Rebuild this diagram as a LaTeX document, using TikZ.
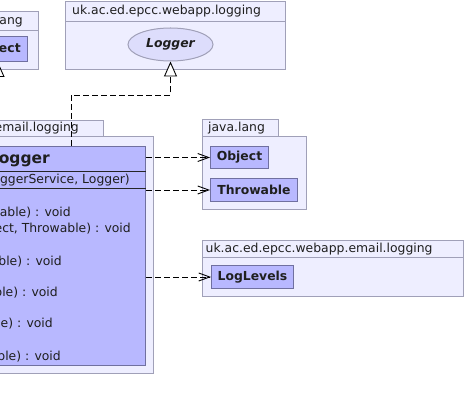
\documentclass[tikz,border=0pt]{standalone}
\usepackage{fontspec}
\setmainfont{DejaVu Sans}
\usetikzlibrary{arrows.meta,shapes.geometric}

\definecolor{pkgfill}{RGB}{238,238,255}
\definecolor{pkgline}{RGB}{160,160,184}
\definecolor{clsfill}{RGB}{184,184,255}
\definecolor{clsline}{RGB}{112,112,160}
\definecolor{iffill}{RGB}{221,221,252}

\begin{document}
\begin{tikzpicture}[x=1pt,y=-1pt,
    every node/.style={font=\fontsize{12.4}{15}\selectfont,text=black!88},
    pkgbox/.style={draw=pkgline,fill=pkgfill,line width=1pt,inner sep=0pt,anchor=north west},
    clsbox/.style={draw=clsline,fill=clsfill,line width=1pt,inner sep=0pt},
    bold/.style={font=\fontsize{12.4}{15}\selectfont\bfseries},
    member/.style={inner sep=0pt,anchor=east},
    dep/.style={line width=0.9pt,dash pattern=on 6pt off 3pt,-{Straight Barb[length=11pt,width=8pt]}},
    realize/.style={line width=0.9pt,dash pattern=on 6pt off 3pt,-{Triangle[length=15pt,width=13pt,fill=white]}},
    inherit/.style={line width=0.9pt,-{Triangle[length=15pt,width=13pt,fill=white]}}]

    \useasboundingbox (0,0) rectangle (464,411);

    % java.lang (left, cut off)
    \node[pkgbox,minimum width=98pt,minimum height=19pt] (langtabL) at (-60,11) {};
    \node[pkgbox,minimum width=98pt,minimum height=39pt] (langpkgL) at (-60,30) {};
    \node[member] (langlblL) at (23,21) {java.lang};
    \node[clsbox,bold,minimum width=58pt,minimum height=25pt,anchor=south] (objL) at (-2,62) {Object};
    \coordinate (subL) at (-2,150);
    \draw[inherit] (subL) -- (objL.south);

    % uk.ac.ed.epcc.webapp.logging
    \node[pkgbox,minimum width=220pt,minimum height=20pt] (logtab) at (65,1) {};
    \node[pkgbox,minimum width=220pt,minimum height=48pt] (logpkg) at (65,21) {};
    \node[inner sep=0pt,anchor=west] (loglbl) at ([xshift=7pt]logtab.west) {uk.ac.ed.epcc.webapp.logging};
    \node[ellipse,draw=pkgline,fill=iffill,line width=1pt,minimum width=85pt,minimum height=33pt,
      font=\fontsize{12.4}{15}\selectfont\bfseries\itshape] (loggerIf) at (170.5,44.5) {Logger};

    % uk.ac.ed.epcc.webapp.email.logging
    \node[pkgbox,minimum width=163pt,minimum height=16pt] (emltab) at (-60,120) {};
    \node[pkgbox,minimum width=213pt,minimum height=237pt] (emlpkg) at (-60,136) {};
    \node[member] (emllbl) at (79,128) {uk.ac.ed.epcc.webapp.email.logging};

    \node[clsbox,anchor=north west,minimum width=205pt,minimum height=219pt] (emllog) at (-60,146) {};
    \draw[draw=black!85,line width=0.9pt] (emllog.west |- 0,171) -- (emllog.east |- 0,171);
    \draw[draw=black!85,line width=0.9pt] (emllog.west |- 0,188) -- (emllog.east |- 0,188);
    \node[member,font=\fontsize{15.5}{18}\selectfont\bfseries] (clsname) at (50,159) {EmailLogger};
    \node[member] (ctor) at (130,180) {EmailLogger(EmailLoggerService, Logger)};
    \node[member] (m1) at (71,213) {Throwable) : void};
    \node[member] (m2) at (131,229) {Object, Throwable) : void};
    \node[member] (m3) at (62,262) {Throwable) : void};
    \node[member] (m4) at (58,293) {Throwable) : void};
    \node[member] (m5) at (53,324) {Throwable) : void};
    \node[member] (m6) at (61,357) {Throwable) : void};

    % java.lang (right)
    \node[pkgbox,minimum width=76pt,minimum height=17pt] (langtabR) at (202,119) {};
    \node[pkgbox,minimum width=104pt,minimum height=73pt] (langpkgR) at (202,136) {};
    \node[inner sep=0pt,anchor=west] (langlblR) at ([xshift=6pt]langtabR.west) {java.lang};
    \node[clsbox,bold,anchor=north west,minimum width=58pt,minimum height=22pt] (objR) at (210,146) {Object};
    \node[clsbox,bold,anchor=north west,minimum width=87pt,minimum height=23pt] (thrR) at (210,178) {Throwable};

    % uk.ac.ed.epcc.webapp.email.logging (right)
    \node[pkgbox,minimum width=261pt,minimum height=17pt] (lvltab) at (202,240) {};
    \node[pkgbox,minimum width=261pt,minimum height=39pt] (lvlpkg) at (202,257) {};
    \node[inner sep=0pt,anchor=west] (lvllbl) at ([xshift=3.5pt]lvltab.west) {uk.ac.ed.epcc.webapp.email.logging};
    \node[clsbox,bold,anchor=north west,minimum width=82pt,minimum height=23pt] (lvls) at (211,265) {LogLevels};

    % connectors
    \coordinate (implTop) at (71,146);
    \draw[realize] (implTop) -- (implTop |- 0,95) -- (loggerIf.south |- 0,95) -- (loggerIf.south);
    \draw[dep] (emllog.east |- objR.west) -- (objR.west);
    \draw[dep] (emllog.east |- thrR.west) -- (thrR.west);
    \draw[dep] (emllog.east |- lvls.west) -- (lvls.west);

\end{tikzpicture}
\end{document}
